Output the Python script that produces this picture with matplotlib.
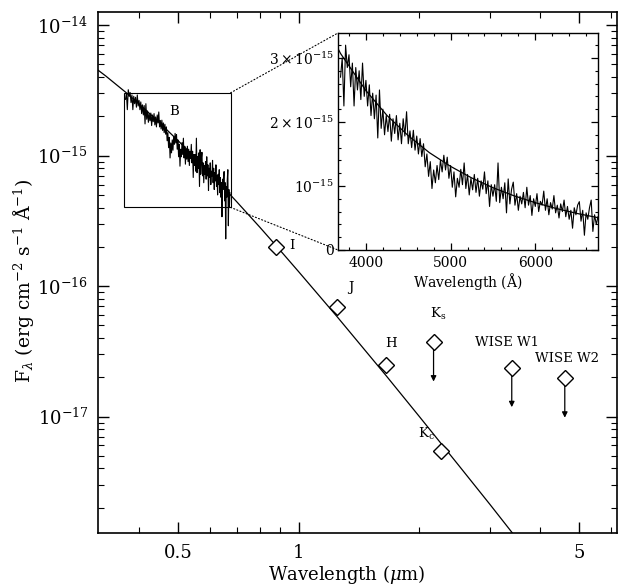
import numpy as np
import matplotlib
matplotlib.use('Agg')
import matplotlib.pyplot as plt
from matplotlib.ticker import FixedLocator, FuncFormatter, LogLocator, MultipleLocator, NullFormatter
from matplotlib.patches import Rectangle, ConnectionPatch

plt.rcParams['font.family'] = ['DejaVu Serif']
plt.rcParams['mathtext.fontset'] = 'dejavuserif'

# model curve (wavelength in micron, flux in 1e-15 erg/cm2/s/A)
model_wl = [0.31, 0.33, 0.37, 0.40, 0.425, 0.45, 0.475, 0.50, 0.525, 0.55, 0.575, 0.60,
            0.625, 0.65, 0.675, 0.70, 0.80, 0.88, 1.0, 1.25, 1.65, 2.0, 2.5, 3.0, 3.5]
model_flux = [4.73, 4.09, 3.07, 2.49, 2.10, 1.785, 1.52, 1.306, 1.125, 0.973, 0.846, 0.739,
              0.647, 0.569, 0.502, 0.445, 0.283, 0.203, 0.129, 0.0578, 0.0207, 0.0100,
              0.00427, 0.00212, 0.00116]

# spectrum, 3700-6740 A in 20 A steps, flux in 1e-15
spec_start = 3700
spec_step = 20
spec_flux = [
    2.70, 3.00, 2.25, 3.20, 2.85, 3.05, 2.55, 2.92, 2.25, 2.85,
    2.50, 2.80, 2.35, 2.92, 2.40, 2.65, 2.25, 2.58, 2.10, 2.45,
    2.05, 2.42, 1.75, 2.50, 1.90, 2.20, 1.80, 2.10, 1.85, 2.12,
    1.70, 2.05, 1.82, 2.10, 1.72, 1.98, 1.66, 2.05, 1.78, 2.16,
    1.66, 1.86, 1.60, 1.87, 1.56, 1.78, 1.50, 1.74, 1.46, 1.66,
    1.30, 1.50, 1.15, 1.38, 0.96, 1.25, 1.05, 1.32, 1.10, 1.40,
    1.22, 1.48, 1.25, 1.45, 1.12, 1.32, 0.98, 1.22, 0.83, 1.12,
    0.98, 1.26, 1.02, 1.36, 0.96, 1.18, 0.86, 1.12, 0.94, 1.18,
    0.90, 1.12, 0.84, 1.08, 0.95, 1.22, 0.88, 1.08, 0.68, 1.02,
    0.84, 1.02, 0.76, 1.36, 0.74, 0.98, 0.80, 1.05, 0.58, 1.11,
    0.72, 0.95, 1.06, 0.70, 0.88, 0.62, 0.84, 0.72, 0.90, 0.66,
    0.98, 0.70, 0.85, 0.54, 0.80, 0.68, 0.88, 0.60, 0.76, 0.70,
    0.92, 0.62, 0.80, 0.55, 0.74, 0.64, 0.85, 0.58, 0.70, 0.50,
    0.72, 0.60, 0.78, 0.52, 0.68, 0.48, 0.62, 0.34, 0.66, 0.55,
    0.70, 0.755, 0.45, 0.62, 0.23, 0.58, 0.48, 0.66, 0.78, 0.29,
    0.55, 0.40, 0.52]

# photometry
det_names = ['I', 'J', 'H', r'K$_{\rm c}$']
det_wl = [0.88, 1.243, 1.65, 2.27]
det_flux = [2.0e-16, 6.96e-17, 2.47e-17, 5.46e-18]
lim_names = [r'K$_{\rm s}$', 'WISE W1', 'WISE W2']
lim_wl = [2.17, 3.40, 4.61]
lim_flux = [3.71e-17, 2.36e-17, 1.96e-17]

# zoom box (micron, flux)
box_wl = [0.3674, 0.6766]
box_flux = [4.01e-16, 3.03e-15]

spec_wl = spec_start + spec_step * np.arange(len(spec_flux))
spec_f = np.array(spec_flux)
mwl = np.array(model_wl)
mf = np.array(model_flux)

fig = plt.figure(figsize=(6.19, 5.86), dpi=100)
ax = fig.add_axes([0.1583, 0.0904, 0.8384, 0.889])

ax.plot(mwl, mf * 1e-15, 'k-', lw=0.9, zorder=2)
ax.plot(spec_wl / 1e4, spec_f * 1e-15, 'k-', lw=0.8, zorder=3)
ax.plot(det_wl, det_flux, 'D', ms=8, mfc='white', mec='k', mew=1.0, zorder=4)
ax.plot(lim_wl, lim_flux, 'D', ms=8, mfc='white', mec='k', mew=1.0, zorder=4)
for w, f in zip(lim_wl, lim_flux):
    ax.annotate('', xy=(w, f / 2), xytext=(w, f),
                arrowprops=dict(arrowstyle='-|>', color='k', lw=0.9, shrinkA=5.5, shrinkB=0,
                                mutation_scale=8))

ax.add_patch(Rectangle((box_wl[0], box_flux[0]), box_wl[1] - box_wl[0], box_flux[1] - box_flux[0],
                       fill=False, ec='k', lw=0.8, zorder=2))

lab = dict(fontsize=9.5, ha='center', va='center')
ax.text(0.49, 2.19e-15, 'B', **lab)
ax.text(0.96, 2.03e-16, det_names[0], **lab)
ax.text(1.35, 9.8e-17, det_names[1], **lab)
ax.text(1.70, 3.6e-17, det_names[2], **lab)
ax.text(2.08, 7.36e-18, det_names[3], **lab)
ax.text(2.23, 6.12e-17, lim_names[0], **lab)
ax.text(3.31, 3.69e-17, lim_names[1], **lab)
ax.text(4.68, 2.8e-17, lim_names[2], **lab)

ax.set_xscale('log')
ax.set_yscale('log')
ax.set_xlim(0.316, 6.22)
ax.set_ylim(1.28e-18, 1.26e-14)
ax.xaxis.set_major_locator(FixedLocator([0.5, 1, 5]))
ax.xaxis.set_major_formatter(FuncFormatter(lambda v, p: '%g' % v))
ax.xaxis.set_minor_locator(FixedLocator([0.4, 0.6, 0.7, 0.8, 0.9, 2, 3, 4, 6]))
ax.xaxis.set_minor_formatter(NullFormatter())
ax.yaxis.set_major_locator(FixedLocator([1e-17, 1e-16, 1e-15, 1e-14]))
ax.yaxis.set_minor_locator(LogLocator(base=10, subs=np.arange(2, 10), numticks=20))
ax.yaxis.set_minor_formatter(NullFormatter())
ax.tick_params(which='both', direction='in', top=True, right=True, labelsize=13)
ax.tick_params(which='major', length=8, width=1.0)
ax.tick_params(which='minor', length=4, width=0.8)
ax.tick_params(axis='x', pad=8)
ax.tick_params(axis='y', pad=7)
for s in ax.spines.values():
    s.set_linewidth(1.2)
ax.set_xlabel(r'Wavelength ($\mu$m)', fontsize=13)
ax.set_ylabel(r'F$_\lambda$ (erg cm$^{-2}$ s$^{-1}$ $\mathrm{\AA}^{-1}$)', fontsize=13.5)
ax.xaxis.set_label_coords(0.48, -0.058)
ax.yaxis.set_label_coords(-0.12, 0.485)

# inset
axi = fig.add_axes([0.546, 0.5734, 0.42, 0.3703])
axi.plot(spec_wl, spec_f * 1e-15, 'k-', lw=0.8)
axi.plot(mwl * 1e4, mf * 1e-15, 'k-', lw=0.9)
axi.set_xlim(3670, 6740)
axi.set_ylim(0, 3.39e-15)
axi.xaxis.set_major_locator(MultipleLocator(1000))
axi.xaxis.set_minor_locator(MultipleLocator(200))
axi.yaxis.set_major_locator(MultipleLocator(1e-15))
axi.yaxis.set_minor_locator(MultipleLocator(2e-16))


def inset_fmt(v, pos):
    n = int(round(v / 1e-15))
    if n == 0:
        return '0'
    if n == 1:
        return r'$10^{-15}$'
    return r'$%d\times10^{-15}$' % n


axi.yaxis.set_major_formatter(FuncFormatter(inset_fmt))
axi.tick_params(which='both', direction='in', top=True, right=True, labelsize=10)
axi.tick_params(which='major', length=5, width=0.9)
axi.tick_params(which='minor', length=2.5, width=0.8)
axi.tick_params(axis='x', pad=4)
axi.tick_params(axis='y', pad=3)
for s in axi.spines.values():
    s.set_linewidth(1.0)
axi.set_xlabel(r'Wavelength ($\mathrm{\AA}$)', fontsize=10, labelpad=1)

# dotted connectors from the box to the inset
for yb, yi in [(box_flux[1], 1), (box_flux[0], 0)]:
    con = ConnectionPatch(xyA=(box_wl[1], yb), coordsA=ax.transData,
                          xyB=(0, yi), coordsB=axi.transAxes,
                          linestyle=(0, (1, 2)), lw=0.8, color='k')
    fig.add_artist(con)

fig.savefig('out.png', dpi=100)
